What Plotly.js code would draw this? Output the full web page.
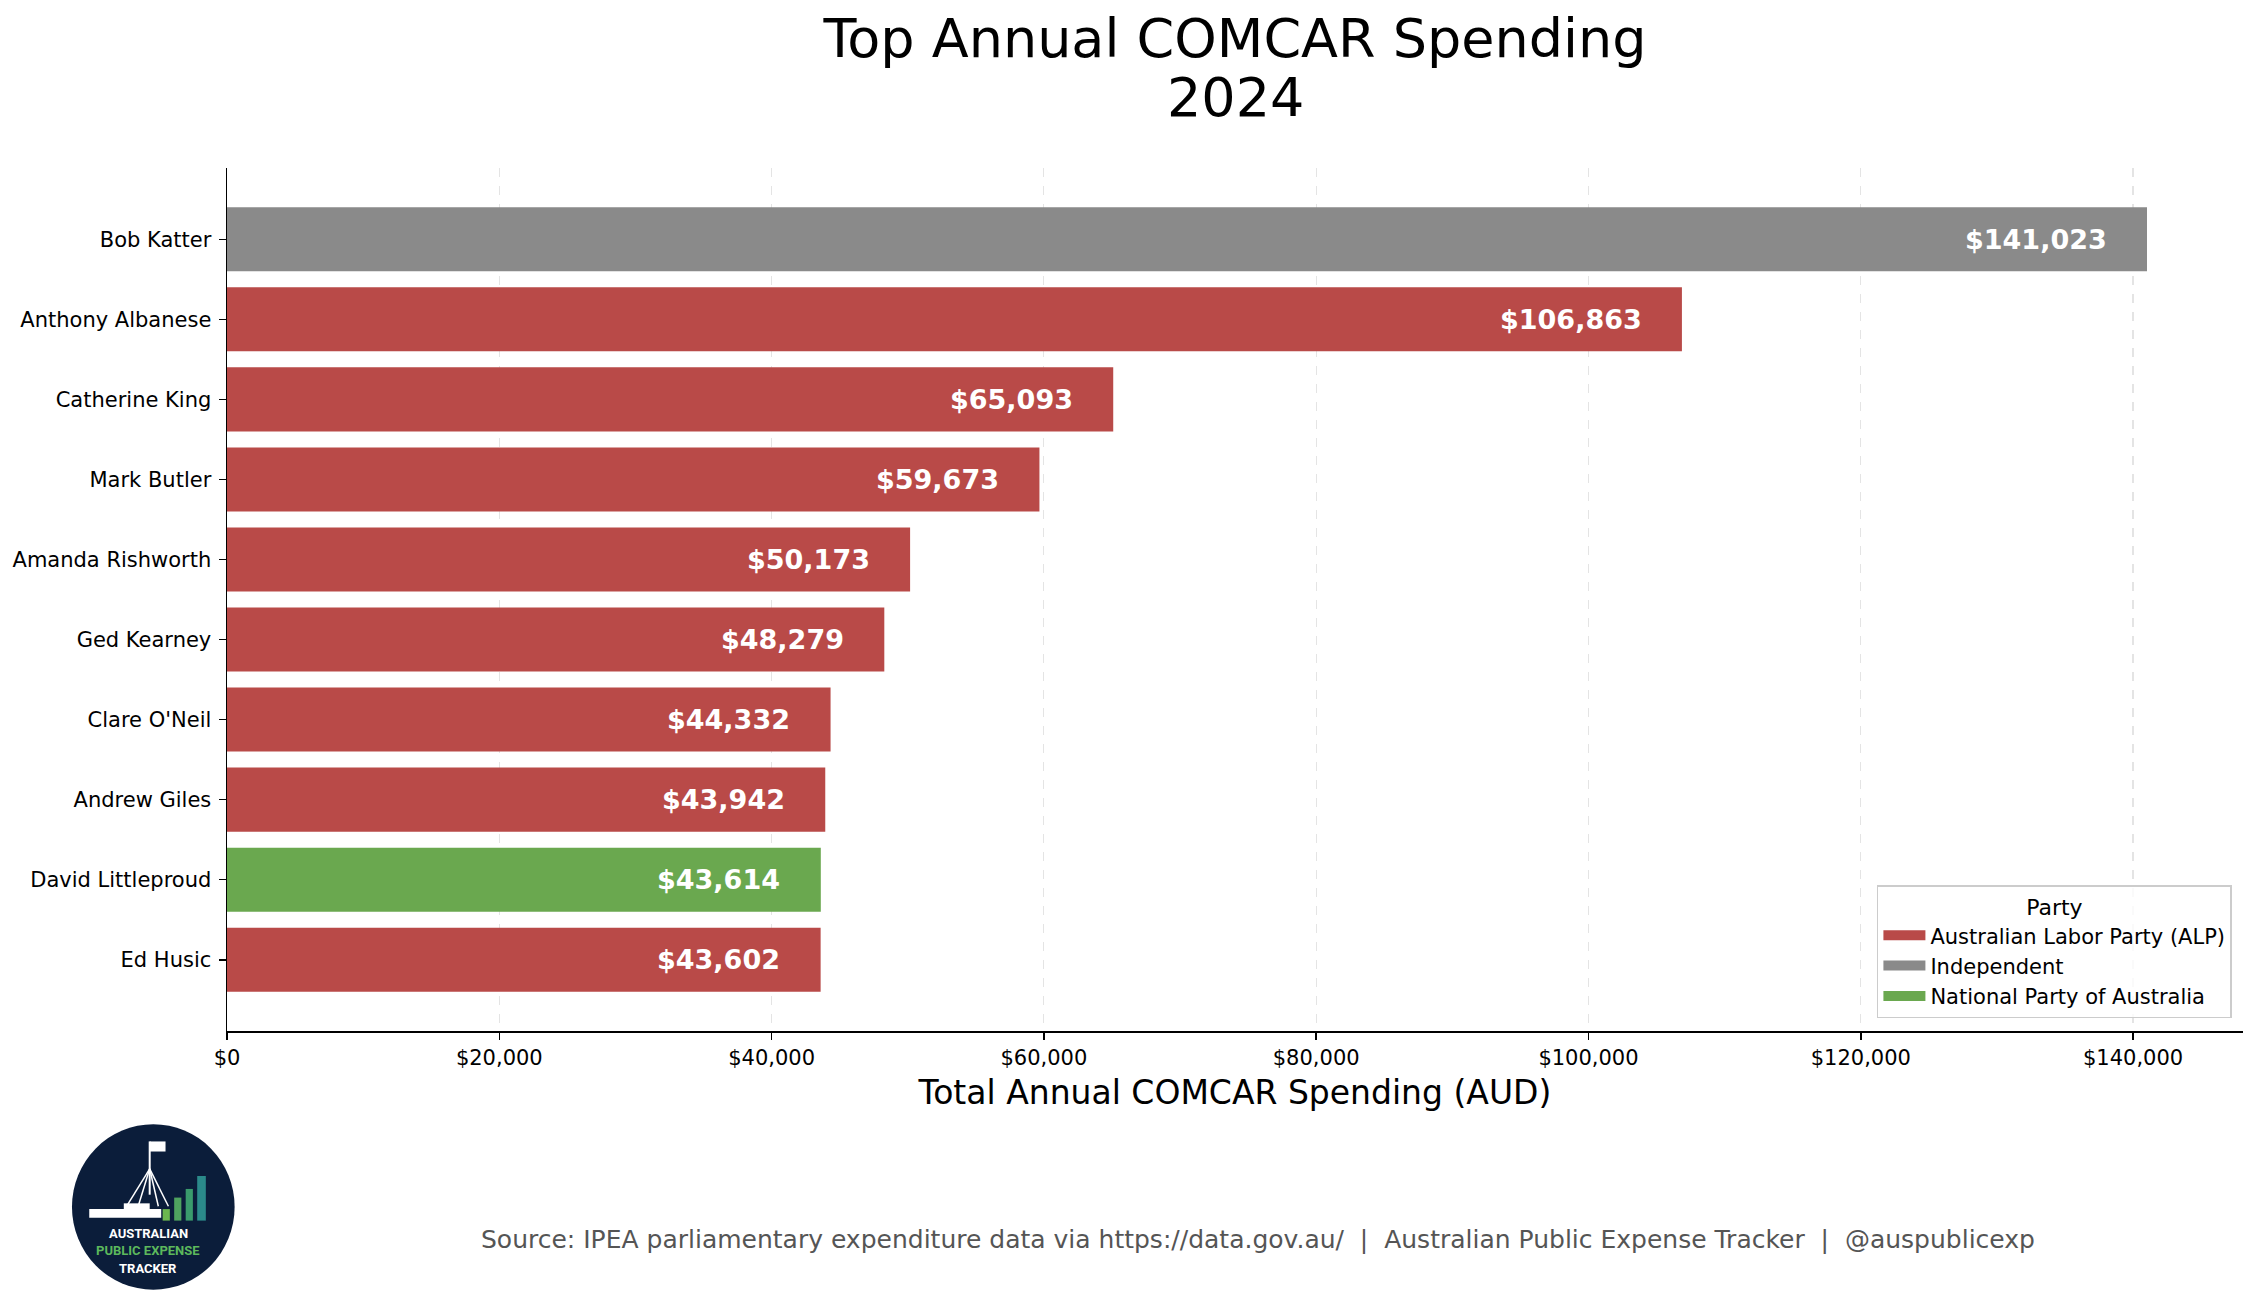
<!DOCTYPE html>
<html>
<head>
<meta charset="utf-8">
<script src="https://cdn.plot.ly/plotly-3.0.1.min.js"></script>
<style>
  html, body { margin: 0; padding: 0; background: #fff; }
  #plot { width: 2257px; height: 1310px; }
</style>
</head>
<body>
<div id="plot"></div>
<script>
// data
var names = ['Bob Katter', 'Anthony Albanese', 'Catherine King', 'Mark Butler',
             'Amanda Rishworth', 'Ged Kearney', "Clare O'Neil", 'Andrew Giles',
             'David Littleproud', 'Ed Husic'];
var spend = [141023, 106863, 65093, 59673, 50173, 48279, 44332, 43942, 43614, 43602];
var party = ['Independent', 'Australian Labor Party (ALP)', 'Australian Labor Party (ALP)',
             'Australian Labor Party (ALP)', 'Australian Labor Party (ALP)', 'Australian Labor Party (ALP)',
             'Australian Labor Party (ALP)', 'Australian Labor Party (ALP)', 'National Party of Australia',
             'Australian Labor Party (ALP)'];
var partyOrder = ['Australian Labor Party (ALP)', 'Independent', 'National Party of Australia'];
var partyColours = ['#b94a48', '#8a8a8a', '#6aa84f'];
var xTicks = [0, 20000, 40000, 60000, 80000, 100000, 120000, 140000];
var xTickText = xTicks.map(function (v) { return '$' + v.toLocaleString('en-US'); });

var FONT = 'DejaVu Sans, sans-serif';

// one trace per party
var traces = [];
for (var p = 0; p < partyOrder.length; p++) {
  var ys = [], xs = [];
  for (var i = 0; i < names.length; i++) {
    if (party[i] == partyOrder[p]) { ys.push(names[i]); xs.push(spend[i]); }
  }
  traces.push({
    type: 'bar', orientation: 'h',
    x: xs, y: ys, width: 0.8,
    name: partyOrder[p], legendgroup: partyOrder[p], showlegend: false,
    marker: { color: partyColours[p] },
    hoverinfo: 'x+y'
  });
}
// legend entries drawn as thick lines so the swatches come out as wide patches
for (var p = 0; p < partyOrder.length; p++) {
  traces.push({
    type: 'scatter', mode: 'lines', x: [null], y: [null],
    name: partyOrder[p], legendgroup: partyOrder[p],
    line: { color: partyColours[p], width: 14 },
    hoverinfo: 'skip'
  });
}

// value labels inside bars, 2% of max back from the bar end
var maxV = Math.max.apply(null, spend);
var ann = [];
for (var i = 0; i < names.length; i++) {
  ann.push({
    x: spend[i] - maxV * 0.02, y: names[i], xref: 'x', yref: 'y',
    text: '$' + spend[i].toLocaleString('en-US'),
    xanchor: 'right', yanchor: 'middle', showarrow: false,
    font: { family: FONT, size: 27, color: '#ffffff', weight: 'bold' }
  });
}

// plot box in pixels: l=227, r=2243, t=168, b=1031 ; reference image is shown at 1/1.4394
var K = 1.4394;
function px(x) { return (x * K - 227) / 2016; }
function py(y) { return (1031 - y * K) / 863; }
function fy(y) { return (1031 - y) / 863; }   // full-size pixel -> paper

// second title line
ann.push({
  x: 0.5, y: fy(97), xref: 'paper', yref: 'paper',
  text: '2024', showarrow: false, xanchor: 'center', yanchor: 'middle',
  font: { family: FONT, size: 54, color: '#000000' }
});

var NB = '\u00a0';
ann.push({
  x: px(874), y: py(861), xref: 'paper', yref: 'paper',
  text: 'Source: IPEA parliamentary expenditure data via https://data.gov.au/' + NB + NB + '|' + NB + NB +
        'Australian Public Expense Tracker' + NB + NB + '|' + NB + NB + '@auspublicexp',
  showarrow: false, xanchor: 'center', yanchor: 'middle',
  font: { family: FONT, size: 25, color: '#555555' }
});

// logo text
var logoText = [['AUSTRALIAN', '#ffffff', 857], ['PUBLIC EXPENSE', '#5cb85c', 869], ['TRACKER', '#ffffff', 881]];
for (var j = 0; j < logoText.length; j++) {
  ann.push({
    x: px(103), y: py(logoText[j][2]), xref: 'paper', yref: 'paper',
    text: logoText[j][0], showarrow: false, xanchor: 'center', yanchor: 'middle',
    font: { family: 'Roboto, sans-serif', size: 13, color: logoText[j][1], weight: 'bold' }
  });
}

// logo drawing
var shapes = [
  { type: 'circle', xref: 'paper', yref: 'paper', x0: px(50), x1: px(163), y0: py(896), y1: py(781),
    fillcolor: '#0b1d3a', line: { width: 0 } },
  // flag pole and flag
  { type: 'line', xref: 'paper', yref: 'paper', x0: px(104), x1: px(104), y0: py(830), y1: py(793),
    line: { color: '#ffffff', width: 2 } },
  { type: 'rect', xref: 'paper', yref: 'paper', x0: px(104), x1: px(115), y0: py(800), y1: py(793),
    fillcolor: '#ffffff', line: { width: 0 } },
  // legs of the flagpole
  { type: 'line', xref: 'paper', yref: 'paper', x0: px(104), x1: px(88), y0: py(812), y1: py(838), line: { color: '#ffffff', width: 1.5 } },
  { type: 'line', xref: 'paper', yref: 'paper', x0: px(104), x1: px(96), y0: py(812), y1: py(838), line: { color: '#ffffff', width: 1.5 } },
  { type: 'line', xref: 'paper', yref: 'paper', x0: px(104), x1: px(110), y0: py(812), y1: py(838), line: { color: '#ffffff', width: 1.5 } },
  { type: 'line', xref: 'paper', yref: 'paper', x0: px(104), x1: px(117), y0: py(812), y1: py(838), line: { color: '#ffffff', width: 1.5 } },
  // building
  { type: 'rect', xref: 'paper', yref: 'paper', x0: px(62), x1: px(112), y0: py(846), y1: py(840),
    fillcolor: '#ffffff', line: { width: 0 } },
  { type: 'rect', xref: 'paper', yref: 'paper', x0: px(86), x1: px(104), y0: py(840), y1: py(836),
    fillcolor: '#ffffff', line: { width: 0 } },
  // rising bars
  { type: 'rect', xref: 'paper', yref: 'paper', x0: px(113), x1: px(118), y0: py(848), y1: py(840), fillcolor: '#6cb74f', line: { width: 0 } },
  { type: 'rect', xref: 'paper', yref: 'paper', x0: px(121), x1: px(126), y0: py(848), y1: py(832), fillcolor: '#4fa35f', line: { width: 0 } },
  { type: 'rect', xref: 'paper', yref: 'paper', x0: px(129), x1: px(134), y0: py(848), y1: py(826), fillcolor: '#3a9b6c', line: { width: 0 } },
  { type: 'rect', xref: 'paper', yref: 'paper', x0: px(137), x1: px(143), y0: py(848), y1: py(817), fillcolor: '#2b8a8a', line: { width: 0 } }
];

var layout = {
  width: 2257, height: 1310,
  margin: { l: 227, r: 14, t: 168, b: 279 },
  paper_bgcolor: '#ffffff', plot_bgcolor: '#ffffff',
  font: { family: FONT, color: '#000000' },
  title: {
    text: 'Top Annual COMCAR Spending',
    font: { family: FONT, size: 54, color: '#000000' },
    x: 0.5, xref: 'paper', xanchor: 'center',
    y: 1 - 38 / 1310, yref: 'container', yanchor: 'middle'
  },
  barmode: 'overlay',
  showlegend: true,
  legend: {
    x: 0.9945, y: 0.015, xanchor: 'right', yanchor: 'bottom',
    bgcolor: 'rgba(255,255,255,0.8)', bordercolor: '#cccccc', borderwidth: 1.5,
    font: { family: FONT, size: 21, color: '#000000' },
    title: { text: 'Party', side: 'top center', font: { family: FONT, size: 22, color: '#000000' } },
    itemwidth: 42,
    traceorder: 'normal'
  },
  xaxis: {
    range: [0, maxV * 1.05],
    tickmode: 'array', tickvals: xTicks, ticktext: xTickText,
    tickfont: { family: FONT, size: 21, color: '#000000' },
    ticks: 'outside', ticklen: 7, tickwidth: 1.5, tickcolor: '#000000',
    showline: true, linecolor: '#000000', linewidth: 1.5,
    showgrid: true, gridcolor: '#e4e4e4', griddash: 'dash', gridwidth: 1.2,
    zeroline: false,
    title: { text: 'Total Annual COMCAR Spending (AUD)', font: { family: FONT, size: 33, color: '#000000' }, standoff: 12 }
  },
  yaxis: {
    type: 'category',
    categoryorder: 'array', categoryarray: names,
    range: [names.length - 1 + 0.89, -0.89],
    tickfont: { family: FONT, size: 21, color: '#000000' },
    ticks: 'outside', ticklen: 7, tickwidth: 1.5, tickcolor: '#000000',
    ticklabelstandoff: 3,
    showline: true, linecolor: '#000000', linewidth: 1.5,
    showgrid: false, zeroline: false
  },
  annotations: ann,
  shapes: shapes
};

Plotly.newPlot('plot', traces, layout, { displayModeBar: false, staticPlot: true });
</script>
</body>
</html>
